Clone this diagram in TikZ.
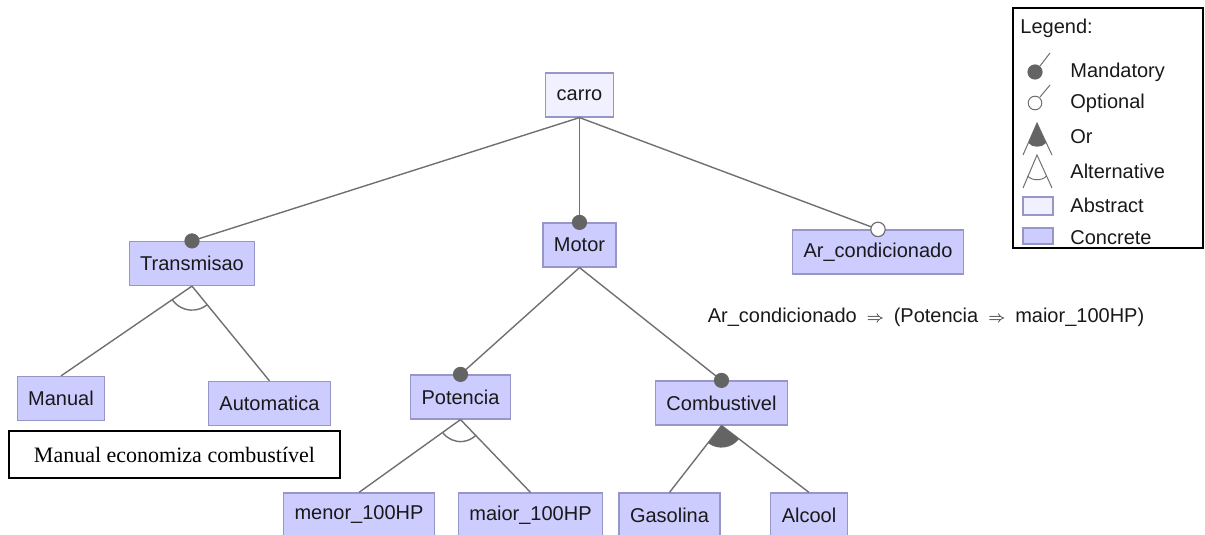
\documentclass[tikz,border=0pt]{standalone}
\usepackage{fontspec}
\setmainfont{Liberation Sans}
\newfontfamily\notefont{Liberation Serif}
\usepackage{tikz}
\usetikzlibrary{calc}
\usepackage{xcolor}
\definecolor{feat-concrete}{RGB}{204,204,255}
\definecolor{feat-abstract}{RGB}{240,240,255}
\definecolor{feat-border}{RGB}{150,150,200}
\definecolor{edge-gray}{RGB}{112,112,112}
\definecolor{dot-gray}{RGB}{100,100,100}

\begin{document}
\begin{tikzpicture}[
  x = 0.5pt, y = -0.5pt,
  every node/.style = {font=\normalsize, text=black!90},
  % Box styles
  concrete/.style = {draw=feat-border, fill=feat-concrete, line width=0.6pt,
                     inner xsep=5.5pt, minimum height=22pt},
  abstract/.style = {concrete, fill=feat-abstract},
  notebox/.style  = {draw=black, line width=0.6pt, minimum width=165.5pt,
                     minimum height=23.5pt, font=\notefont\fontsize{11}{13}\selectfont,
                     text=black},
  legendbox/.style= {draw=black, line width=0.8pt},
  % Edge styles
  featedge/.style = {draw=edge-gray, line width=0.7pt},
  mandatory/.style= {fill=dot-gray},
  optional/.style = {draw=edge-gray, fill=white, line width=0.6pt},
  groupfill/.style= {fill=dot-gray},
  legendtext/.style = {anchor=west, inner sep=0pt},
]
\useasboundingbox (0,0) rectangle (1205,535);

% ── Nodes ──────────────────────────────────────────────────────────────────────

\node[abstract] (carro) at (579.5, 95) {carro};

% first level
\node[concrete] (transmisao) at (192, 263.5) {Transmisao};
\node[concrete] (motor)      at (579.5, 245) {Motor};
\node[concrete] (arcond)     at (878, 252) {Ar\_condicionado};

% second level
\node[concrete] (manual)      at (61, 398.5)  {Manual};
\node[concrete] (automatica)  at (269.5, 403.5) {Automatica};
\node[concrete] (potencia)    at (460.5, 397) {Potencia};
\node[concrete] (combustivel) at (721.5, 403) {Combustivel};

% third level (cut by the page edge)
\node[concrete] (menor)    at (359, 515) {menor\_100HP};
\node[concrete] (maior)    at (530.5, 515) {maior\_100HP};
\node[concrete] (gasolina) at (669.5, 515) {Gasolina};
\node[concrete] (alcool)   at (809, 515) {Alcool};

% comment and constraint
\node[notebox] (note) at (174.5, 454.5) {Manual economiza combustível};
\node (constraint) at (926, 317)
  {Ar\_condicionado\enspace{\footnotesize$\Rightarrow$}\enspace(Potencia\enspace{\footnotesize$\Rightarrow$}\enspace maior\_100HP)};

% ── Edges ──────────────────────────────────────────────────────────────────────

\draw[featedge] (carro.south) -- (transmisao.north);
\draw[featedge] (carro.south) -- (motor.north);
\draw[featedge] (carro.south) -- (arcond.north);

\draw[featedge] (transmisao.south) -- (manual.north);
\draw[featedge] (transmisao.south) -- (automatica.north);
\draw[featedge] (motor.south) -- (potencia.north);
\draw[featedge] (motor.south) -- (combustivel.north);
\draw[featedge] (potencia.south) -- (menor.north);
\draw[featedge] (potencia.south) -- (maior.north);
\draw[featedge] (combustivel.south) -- (gasolina.north);
\draw[featedge] (combustivel.south) -- (alcool.north);

% mandatory / optional markers
\fill[mandatory] (transmisao.north) circle[radius=3.8pt];
\fill[mandatory] (motor.north) circle[radius=3.8pt];
\fill[mandatory] (potencia.north) circle[radius=3.8pt];
\fill[mandatory] (combustivel.north) circle[radius=3.8pt];
\filldraw[optional] (arcond.north) circle[radius=3.6pt];

% alternative groups
\draw[featedge] ([shift={(214:12pt)}]transmisao.south)
  arc[start angle=214, end angle=309, radius=12pt];
\draw[featedge] ([shift={(216:11pt)}]potencia.south)
  arc[start angle=216, end angle=314, radius=11pt];

% or group
\fill[groupfill] (combustivel.south) -- ++(233:11pt)
  arc[start angle=233, end angle=323, radius=11pt] -- cycle;

% ── Legend ─────────────────────────────────────────────────────────────────────
\draw[legendbox] (1013,8) rectangle (1203,248);
\node[legendtext] (legtitle) at (1020,28) {Legend:};

\node[legendtext] (legmand) at (1070,72)  {Mandatory};
\node[legendtext] (legopt)  at (1070,103) {Optional};
\node[legendtext] (legor)   at (1070,137) {Or};
\node[legendtext] (legalt)  at (1070,171) {Alternative};
\node[legendtext] (legabs)  at (1070,205) {Abstract};
\node[legendtext] (legcon)  at (1070,238) {Concrete};

% legend symbols
\draw[featedge, line width=0.5pt] (1040,66) -- (1050,53);
\fill[mandatory] (1035,72) circle[radius=3.8pt];
\draw[featedge, line width=0.5pt] (1040,97) -- (1050,85);
\filldraw[optional, line width=0.5pt] (1035,103) circle[radius=3.4pt];

\draw[featedge, line width=0.5pt] (1023,155) -- (1037,123) -- (1052,155);
\fill[groupfill] (1037,123) -- (1028.5,143) .. controls (1032,148) and (1042,148) .. (1046,143) -- cycle;

\draw[featedge, line width=0.5pt] (1023,188) -- (1037,155) -- (1052,188);
\draw[featedge, line width=0.5pt] (1027.5,176) .. controls (1032,181) and (1042,181) .. (1046.5,176);

\draw[draw=feat-border, fill=feat-abstract, line width=0.6pt] (1023,197) rectangle (1053,215);
\draw[draw=feat-border, fill=feat-concrete, line width=0.6pt] (1023,228) rectangle (1053,244);

\end{tikzpicture}
\end{document}
